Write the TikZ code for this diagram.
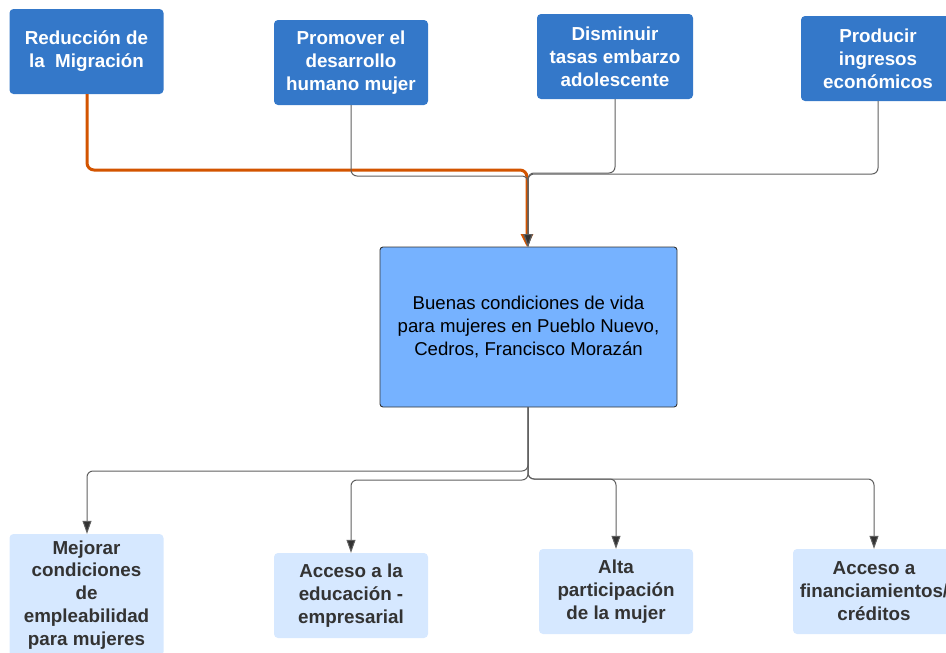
\documentclass[tikz,border=0pt]{standalone}
\usepackage{fontspec}
\setmainfont{Liberation Sans}
\usetikzlibrary{arrows.meta}
\definecolor{topblue}{HTML}{3478C9}
\definecolor{midblue}{HTML}{76B2FF}
\definecolor{lowblue}{HTML}{D6E8FF}
\definecolor{orangeline}{HTML}{D35400}
\definecolor{grayline}{HTML}{606060}
\definecolor{darktext}{HTML}{333333}
\begin{document}
\begin{tikzpicture}[x=1pt,y=-1pt,
  topbox/.style={fill=topblue, rounded corners=4pt, inner sep=0pt, minimum width=154pt, minimum height=85pt, align=center, text=white, font=\fontsize{18.8}{22.9}\selectfont\bfseries},
  lowbox/.style={fill=lowblue, rounded corners=4pt, inner sep=0pt, minimum width=154pt, minimum height=85pt, align=center, text=darktext, font=\fontsize{18.8}{22.9}\selectfont\bfseries},
  midbox/.style={fill=midblue, draw=darktext, line width=0.9pt, rounded corners=3pt, inner sep=0pt, minimum width=297pt, minimum height=160pt, align=center, text=black, font=\fontsize{18.6}{23}\selectfont},
  link/.style={draw=grayline, line width=1pt, rounded corners=6pt, -{Triangle[width=9pt,length=13pt,fill=darktext]}},
  hot/.style={draw=orangeline, line width=3pt, rounded corners=7pt, -{Triangle[width=12pt,length=13pt]}}
]
\useasboundingbox (0,0) rectangle (946,653);
\clip (0,0) rectangle (946,653);
\node[topbox] (t1) at (86.5,51.5) {Reducción de\\la \ Migración};
\node[topbox] (t2) at (351,62.5) {Promover el\\desarrollo\\humano mujer};
\node[topbox, minimum width=156pt] (t3) at (615,56.5) {Disminuir\\tasas embarzo\\adolescente};
\node[topbox] (t4) at (878,58.5) {Producir\\ingresos\\económicos};
\node[midbox] (c) at (528.5,327) {Buenas condiciones de vida\\para mujeres en Pueblo Nuevo,\\Cedros, Francisco Morazán};
\node[lowbox, minimum height=122pt] (b1) at (86.5,595) {Mejorar\\condiciones\\de\\empleabilidad\\para mujeres};
\node[lowbox] (b2) at (351,595.5) {Acceso a la\\educación -\\empresarial};
\node[lowbox] (b3) at (616,591.5) {Alta\\participación\\de la mujer};
\node[lowbox, minimum width=162pt] (b4) at (874,591.5) {Acceso a\\financiamientos/\\créditos};
\coordinate (k1) at (87,170);
\coordinate (k2) at (527,170);
\coordinate (m) at (528,247);
\coordinate (mo) at (527,247);
% orange connector
\draw[hot] (t1.south -| k1) -- (k1) -- (k2) -- (mo);
% gray connectors from top
\draw[link] (t2.south) -- (351,176) -- (528,176) -- (m);
\draw[link] (t3.south) -- (615,173) -- (528,173) -- (m);
\draw[link] (t4.south) -- (878,174) -- (528,174) -- (m);
% bottom connectors
\coordinate (cb) at (528,407);
\draw[link] (cb) -- (528,471) -- (87,471) -- (b1.north -| 87,0);
\draw[link] (cb) -- (528,480) -- (351,480) -- (b2.north);
\draw[link] (cb) -- (528,479) -- (616,479) -- (b3.north);
\draw[link] (cb) -- (528,479) -- (874,479) -- (b4.north);
\end{tikzpicture}
\end{document}
